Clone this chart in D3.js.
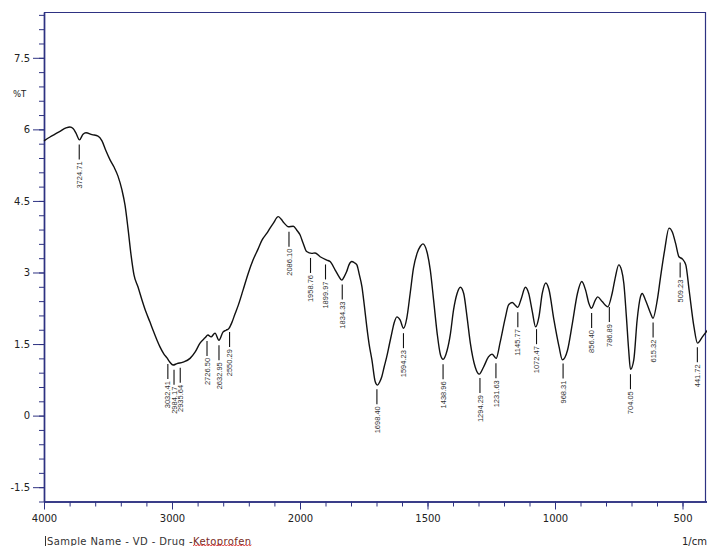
<!DOCTYPE html>
<html>
<head>
<meta charset="utf-8">
<script src="https://cdn.jsdelivr.net/npm/d3@7"></script>
<style>
  body { margin: 0; background: #fff; }
  svg { display: block; }
</style>
</head>
<body>
<svg id="chart" width="707" height="546"></svg>
<script>
// IR spectrum (wavenumber in 1/cm, %T)
const wavenumber = [
  4000, 3953, 3914, 3875, 3828, 3797, 3773, 3750, 3723, 3695, 3672, 3625, 3578, 3547, 3516, 3484,
  3453, 3422, 3391, 3367, 3344, 3320, 3297, 3266, 3234, 3203, 3172, 3148, 3117, 3094, 3063, 3039,
  3016, 2992, 2961, 2914, 2859, 2820, 2781, 2742, 2719, 2695, 2664, 2633, 2602, 2578, 2555, 2531,
  2508, 2484, 2445, 2406, 2367, 2328, 2297, 2260, 2234, 2209, 2170, 2148, 2125, 2091, 2052, 2026,
  2000, 1988, 1974, 1954, 1941, 1921, 1895, 1882, 1862, 1849, 1836, 1827, 1817, 1808, 1797, 1788,
  1777, 1768, 1757, 1748, 1738, 1729, 1718, 1705, 1696, 1688, 1679, 1670, 1660, 1650, 1640, 1631,
  1620, 1607, 1594, 1581, 1568, 1555, 1541, 1528, 1518, 1502, 1489, 1476, 1462, 1449, 1439, 1423,
  1410, 1398, 1384, 1371, 1358, 1345, 1332, 1313, 1297, 1280, 1261, 1247, 1231, 1215, 1195, 1182,
  1168, 1155, 1146, 1133, 1116, 1103, 1089, 1076, 1063, 1050, 1036, 1024, 1004, 984, 971, 951,
  932, 912, 895, 880, 867, 857, 842, 833, 815, 793, 776, 763, 750, 739, 730, 720,
  711, 704, 691, 678, 665, 658, 645, 625, 616, 599, 586, 570, 553, 540, 527, 514,
  500, 487, 474, 455, 441, 422, 402
];
const transmittance = [
  5.76, 5.84, 5.90, 5.96, 6.03, 6.05, 6.02, 5.92, 5.78, 5.90, 5.93, 5.89, 5.86, 5.76, 5.55, 5.36,
  5.21, 5.02, 4.73, 4.41, 3.93, 3.37, 2.95, 2.70, 2.42, 2.17, 1.96, 1.79, 1.58, 1.44, 1.29, 1.21,
  1.12, 1.06, 1.09, 1.12, 1.20, 1.33, 1.52, 1.63, 1.69, 1.65, 1.73, 1.58, 1.75, 1.79, 1.83, 1.96,
  2.13, 2.30, 2.63, 2.97, 3.26, 3.49, 3.68, 3.82, 3.93, 4.03, 4.17, 4.12, 4.04, 3.96, 3.97, 3.89,
  3.79, 3.62, 3.44, 3.40, 3.41, 3.33, 3.26, 3.23, 3.05, 2.93, 2.84, 2.91, 3.02, 3.16, 3.23, 3.21,
  3.16, 2.97, 2.70, 2.32, 1.86, 1.50, 1.17, 0.71, 0.64, 0.70, 0.82, 1.02, 1.23, 1.48, 1.73, 1.94,
  2.07, 2.00, 1.83, 2.05, 2.56, 3.09, 3.40, 3.55, 3.60, 3.43, 3.05, 2.42, 1.72, 1.27, 1.18, 1.37,
  1.72, 2.21, 2.56, 2.69, 2.56, 2.07, 1.52, 1.02, 0.87, 1.02, 1.23, 1.29, 1.20, 1.54, 2.05, 2.32,
  2.37, 2.31, 2.27, 2.44, 2.69, 2.56, 2.18, 1.86, 2.07, 2.56, 2.78, 2.65, 2.00, 1.44, 1.17, 1.37,
  1.93, 2.56, 2.81, 2.63, 2.35, 2.25, 2.42, 2.49, 2.39, 2.28, 2.56, 2.91, 3.16, 3.05, 2.77, 2.07,
  1.37, 0.97, 1.17, 2.00, 2.49, 2.56, 2.42, 2.14, 2.04, 2.42, 2.91, 3.47, 3.93, 3.85, 3.61, 3.33,
  3.28, 3.16, 2.63, 1.86, 1.52, 1.65, 1.79
];
const peakLabels = [
  "3724.71", "3032.41", "2984.17", "2935.64", "2726.50", "2632.95", "2550.29", "2086.10",
  "1958.76", "1899.97", "1834.33", "1698.40", "1594.23", "1438.96", "1294.29", "1231.63",
  "1145.77", "1072.47", "968.31", "856.40", "786.89", "704.05", "615.32", "509.23", "441.72"
];
const xTickLabels = [4000, 3000, 2000, 1500, 1000, 500];
const yTickLabels = [-1.5, 0, 1.5, 3, 4.5, 6, 7.5];
const yTitle = "%T";
const xTitle = "1/cm";
const sampleText = "Sample Name  - VD - Drug - ";
const sampleName = "Ketoprofen";

const axisColor = "#2e3282";
const svg = d3.select("#chart");
svg.append("rect").attr("width", 707).attr("height", 546).attr("fill", "#fff");

// spectrometer style: 4000-2000 compressed, 2000-400 expanded
const x = d3.scaleLinear().domain([4000, 2000, 400]).range([44, 300, 708]);
const y = d3.scaleLinear().domain([-1.8, 8.46]).range([501.5, 12]);

// frame (top + right)
svg.append("path")
  .attr("d", `M${x(4000)},${y(8.46) + 0.5}H705.5V${y(-1.8)}`)
  .attr("fill", "none").attr("stroke", axisColor).attr("stroke-width", 1.2);

// y axis
const yMinor = d3.range(-6, 29).map(i => +(i * 0.3).toFixed(1));
const yAxisMinor = svg.append("g").attr("transform", `translate(${x(4000)},0)`)
  .call(d3.axisLeft(y).tickValues(yMinor).tickSize(5).tickSizeOuter(0).tickFormat(""));
const yAxisMajor = svg.append("g").attr("transform", `translate(${x(4000)},0)`)
  .call(d3.axisLeft(y).tickValues(yTickLabels).tickSize(11).tickSizeOuter(0).tickPadding(3)
    .tickFormat(d => String(d)));

// x axis
const xMinor = d3.range(4000, 2000, -200).concat(d3.range(2000, 399, -100));
const xAxisMinor = svg.append("g").attr("transform", `translate(0,${y(-1.8)})`)
  .call(d3.axisBottom(x).tickValues(xMinor).tickSize(5).tickSizeOuter(0).tickFormat(""));
const xAxisMajor = svg.append("g").attr("transform", `translate(0,${y(-1.8)})`)
  .call(d3.axisBottom(x).tickValues(xTickLabels).tickSize(8).tickSizeOuter(0).tickPadding(5)
    .tickFormat(d => String(d)));

[yAxisMinor, yAxisMajor, xAxisMinor, xAxisMajor].forEach(g => {
  g.select(".domain").attr("stroke", axisColor).attr("stroke-width", 1.4);
  g.selectAll(".tick line").attr("stroke", axisColor).attr("stroke-width", 1);
  g.selectAll(".tick text")
    .attr("fill", "#222")
    .style("font-family", "'DejaVu Sans', Verdana, sans-serif")
    .style("font-size", "10px");
});

svg.append("text")
  .attr("x", 13).attr("y", 97)
  .attr("fill", "#222")
  .style("font-family", "'DejaVu Sans', Verdana, sans-serif")
  .style("font-size", "8.5px")
  .text(yTitle);

// spectrum
const spectrum = wavenumber.map((w, i) => ({ w, t: transmittance[i] }));
const line = d3.line()
  .x(d => x(d.w))
  .y(d => y(d.t))
  .curve(d3.curveMonotoneX);

svg.append("path")
  .datum(spectrum)
  .attr("fill", "none")
  .attr("stroke", "#111")
  .attr("stroke-width", 1.4)
  .attr("stroke-linejoin", "round")
  .attr("d", line);

// value of the trace at a given wavenumber
function traceAt(w) {
  for (let i = 0; i < spectrum.length - 1; i++) {
    const a = spectrum[i], b = spectrum[i + 1];
    if (w <= a.w && w >= b.w) {
      const f = (a.w - w) / (a.w - b.w);
      return a.t + f * (b.t - a.t);
    }
  }
  return spectrum[spectrum.length - 1].t;
}

// peak markers
const peaks = svg.append("g");
peakLabels.forEach(label => {
  const w = parseFloat(label);
  const px = x(w);
  const top = y(traceAt(w)) + 5;
  peaks.append("line")
    .attr("x1", px).attr("x2", px)
    .attr("y1", top).attr("y2", top + 15)
    .attr("stroke", "#111").attr("stroke-width", 1.1);
  peaks.append("text")
    .attr("transform", `translate(${px + 2.6},${top + 17}) rotate(-90)`)
    .attr("text-anchor", "end")
    .attr("fill", "#333")
    .style("font-family", "'Liberation Sans Narrow', 'Arial Narrow', sans-serif")
    .style("font-size", "7.5px")
    .text(label);
});

// footer
const footStyle = t => t
  .style("font-family", "'DejaVu Sans', Verdana, sans-serif")
  .style("font-size", "10px")
  .style("letter-spacing", "0.4px");

svg.append("line")
  .attr("x1", 45.5).attr("x2", 45.5).attr("y1", 536).attr("y2", 546)
  .attr("stroke", "#333").attr("stroke-width", 1);

const t1 = svg.append("text").attr("x", 47).attr("y", 545).attr("fill", "#333")
  .call(footStyle).text(sampleText);
const w1 = t1.node().getComputedTextLength();
const t2 = svg.append("text").attr("x", 47 + w1).attr("y", 545).attr("fill", "#7a2a1c")
  .call(footStyle).text(sampleName);
const w2 = t2.node().getComputedTextLength();

// red spell-check squiggle under the name
const squiggle = d3.path();
const sx0 = 47 + w1;
squiggle.moveTo(sx0, 546);
for (let sx = sx0 + 1.5, k = 0; sx <= sx0 + w2; sx += 1.5, k++) {
  squiggle.lineTo(sx, k % 2 ? 546 : 544.8);
}
svg.append("path").attr("d", squiggle.toString())
  .attr("fill", "none").attr("stroke", "#d22").attr("stroke-width", 0.8);

svg.append("text").attr("x", 682).attr("y", 545).attr("fill", "#222")
  .call(footStyle).style("letter-spacing", "0px").text(xTitle);
</script>
</body>
</html>
